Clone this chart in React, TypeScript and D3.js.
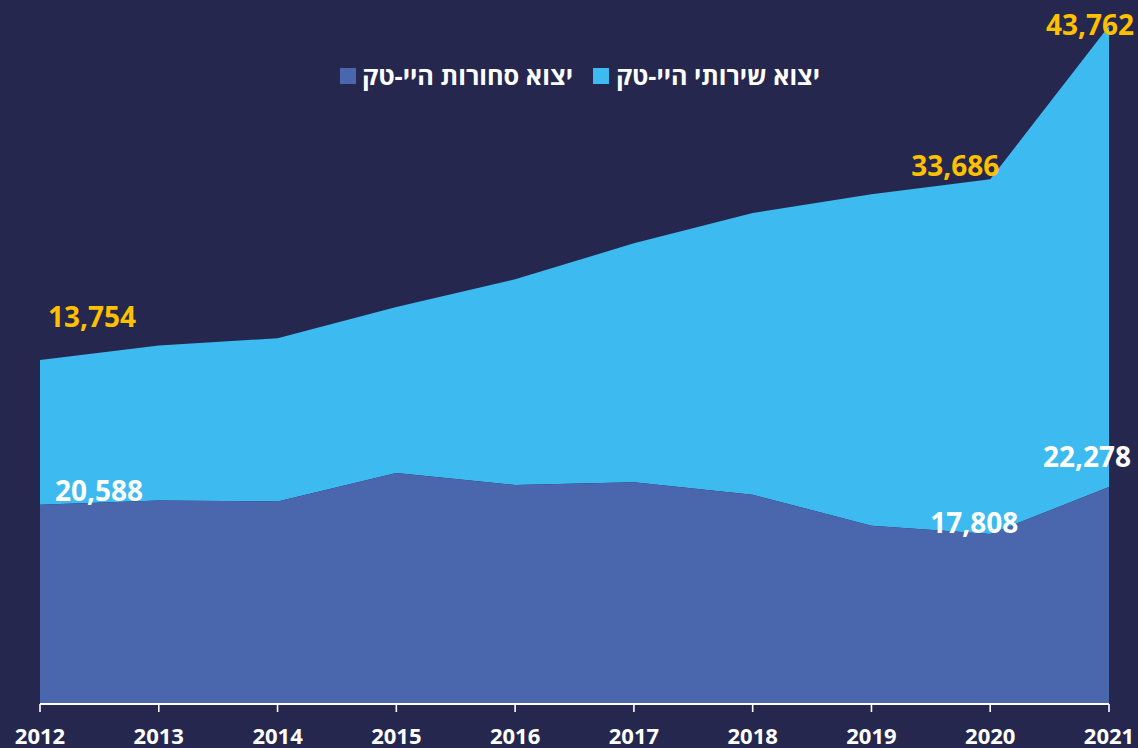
import React from "react";
import * as d3 from "d3";

const years = [2012, 2013, 2014, 2015, 2016, 2017, 2018, 2019, 2020, 2021];
const goods = [20588, 21000, 20900, 23600, 22460, 22720, 21540, 18600, 17808, 22278];
const services = [13754, 14700, 15500, 15760, 19530, 22690, 26750, 31460, 33686, 43762];
const yearLabels = years.map(String);
const legendGoods = "יצוא סחורות היי-טק";
const legendServices = "יצוא שירותי היי-טק";

// which points carry value labels, with label offsets (styling)
const servicesLabelIdx = [0, 8, 9];
const servicesLabelOff = [[52, -33], [-35, -3], [-19, 9]];
const goodsLabelIdx = [0, 8, 9];
const goodsLabelOff = [[59, -4], [-16, -1], [-22, -20]];

const W = 1138;
const H = 748;
const BG = "#25274f";
const C_GOODS = "#4a66ad";
const C_SERV = "#3dbaf0";
const C_LABEL = "#ffc000";
const FONT = "'Open Sans', 'DejaVu Sans', sans-serif";

export default function App() {
  const x = d3.scalePoint<number>().domain(years).range([40, 1109]);
  const y = d3.scaleLinear().domain([0, 70000]).range([721.6, 721.6 - 0.010533 * 70000]);
  const axisY = 704;

  const data = years.map((yr, i) => ({ yr, g: goods[i], s: services[i] }));

  const goodsArea = d3
    .area<{ yr: number; g: number; s: number }>()
    .x((d) => x(d.yr)!)
    .y0(() => y(0))
    .y1((d) => y(d.g));
  const servArea = d3
    .area<{ yr: number; g: number; s: number }>()
    .x((d) => x(d.yr)!)
    .y0((d) => y(d.g))
    .y1((d) => y(d.g + d.s));

  const fmt = d3.format(",");

  return (
    <div style={{ position: "absolute", left: 0, top: 0 }}>
      <svg width={W} height={H} style={{ display: "block" }}>
        <rect x={0} y={0} width={W} height={H} fill={BG} />
        <defs>
          <clipPath id="plotclip">
            <rect x={0} y={0} width={W} height={axisY - 1} />
          </clipPath>
        </defs>
        <g clipPath="url(#plotclip)">
          <path d={servArea(data)!} fill={C_SERV} />
          <path d={goodsArea(data)!} fill={C_GOODS} />
        </g>
        {/* axis */}
        <line x1={x(years[0])} x2={x(years[years.length - 1])} y1={axisY} y2={axisY} stroke="#ffffff" strokeWidth={2} />
        {years.map((yr) => (
          <line key={yr} x1={x(yr)} x2={x(yr)} y1={axisY} y2={axisY + 8} stroke="#ffffff" strokeWidth={1.6} />
        ))}
        {years.map((yr, i) => (
          <text key={"t" + yr} x={x(yr)} y={744} textAnchor="middle" fill="#ffffff" fontFamily={FONT} fontWeight={700} fontSize={22}>
            {yearLabels[i]}
          </text>
        ))}
        {/* value labels */}
        {servicesLabelIdx.map((idx, k) => (
          <text
            key={"s" + idx}
            x={x(years[idx])! + servicesLabelOff[k][0]}
            y={y(goods[idx] + services[idx]) + servicesLabelOff[k][1]}
            textAnchor="middle"
            fill={C_LABEL}
            fontFamily={FONT}
            fontWeight={700}
            fontSize={28}
          >
            {fmt(services[idx])}
          </text>
        ))}
        {goodsLabelIdx.map((idx, k) => (
          <text
            key={"g" + idx}
            x={x(years[idx])! + goodsLabelOff[k][0]}
            y={y(goods[idx]) + goodsLabelOff[k][1]}
            textAnchor="middle"
            fill="#ffffff"
            fontFamily={FONT}
            fontWeight={700}
            fontSize={28}
          >
            {fmt(goods[idx])}
          </text>
        ))}
        {/* legend */}
        <rect x={340} y={68} width={16} height={16} fill={C_GOODS} />
        <text x={573} y={85} textAnchor="start" fill="#ffffff" fontFamily={FONT} fontWeight={700} fontSize={25} direction="rtl" textLength={211} lengthAdjust="spacingAndGlyphs">
          {legendGoods}
        </text>
        <rect x={593} y={68} width={16} height={16} fill={C_SERV} />
        <text x={820} y={85} textAnchor="start" fill="#ffffff" fontFamily={FONT} fontWeight={700} fontSize={25} direction="rtl" textLength={204} lengthAdjust="spacingAndGlyphs">
          {legendServices}
        </text>
      </svg>
    </div>
  );
}
